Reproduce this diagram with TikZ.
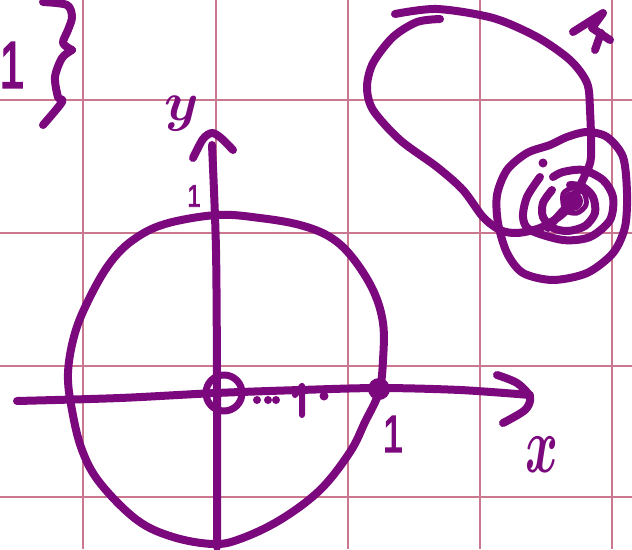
\documentclass[tikz,border=0pt]{standalone}
\usepackage{fontspec}
\usepackage{xcolor}
\usepackage{tikz}
\newfontfamily\elyazi{Liberation Sans}[FakeBold=3]
\definecolor{kalemMor}{HTML}{7B087C}
\definecolor{izgaraPembe}{HTML}{C9788F}

\begin{document}
\begin{tikzpicture}[x=1pt,y=-1pt,
  kalem/.style={kalemMor,line width=8pt,line cap=round,line join=round},
  etiket/.style={kalemMor,inner sep=0pt}]
\useasboundingbox (0,0) rectangle (632,549);
\clip (0,0) rectangle (632,549);
\fill[white] (0,0) rectangle (632,549);
\foreach \gx in {83,216,348,480,612} \draw[izgaraPembe,line width=2pt] (\gx,0)--(\gx,549);
\foreach \gy in {100,233,366,497} \draw[izgaraPembe,line width=2pt] (0,\gy)--(632,\gy);
\begin{scope}
\draw[kalem] plot[smooth cycle,tension=0.6] coordinates {(217,215) (260,218) (300,225) (330,237) (352,257) (373,290) (383,323) (383,360) (379,392) (365,422) (350,452) (320,490) (280,520) (240,539) (213,544) (173,537) (137,520) (100,483) (82,450) (72,410) (68,373) (75,333) (90,297) (110,263) (133,240) (165,224)};
\draw[kalem] plot[smooth] coordinates {(17,401) (120,398) (216,393) (300,390) (380,388) (460,390) (530,395)};
\draw[kalem] plot[smooth] coordinates {(497,375) (517,383) (530,397) (525,410) (503,423)};
\draw[kalem] plot[smooth] coordinates {(217,547) (217,393) (216,250) (212,145)};
\draw[kalem] plot[smooth] coordinates {(193,158) (203,139) (212,133) (221,138) (233,150)};
\draw[kalem,line width=7pt] (224,393) circle (18pt);
\foreach \px in {257,268,276} \fill[kalemMor] (\px,400) circle (4pt);
\draw[kalem,line width=6pt] (295,395)--(302,386)--(302,415);
\fill[kalemMor] (324,396) circle (4.5pt);
\fill[kalemMor] (379,389) circle (11pt);
\node[etiket,font=\elyazi\fontsize{36}{36}\selectfont,yscale=1.45] (birNokta) at (393,434) {1};
\node[etiket,font=\elyazi\fontsize{24}{24}\selectfont,yscale=1.3] (birY) at (194,196) {1};
\node[etiket,font=\boldmath,xscale=5,yscale=8] (eksenX) at (542,455) {$x$};
\node[etiket,font=\boldmath,scale=5.5] (eksenY) at (182,114) {$y$};
\end{scope}
\begin{scope}
\node[etiket,font=\elyazi\fontsize{44}{44}\selectfont,yscale=1.5] (birSol) at (12,65) {1};
\draw[kalem] plot[smooth,tension=0.5] coordinates {(43,2) (67,5) (72,17) (68,30) (63,43) (72,50)};
\draw[kalem] plot[smooth,tension=0.5] coordinates {(72,50) (62,58) (55,77) (58,97) (62,102) (43,125)};
\end{scope}
\begin{scope}
\draw[kalem] plot[smooth] coordinates {(395,14) (437,9) (493,18) (537,37) (570,60) (587,83) (590,110) (591,157) (585,175) (573,199) (560,214) (548,228)};
\draw[kalem] plot[smooth] coordinates {(440,19) (417,22) (393,37) (373,63) (367,87) (373,110) (400,140) (437,167) (463,190) (483,217) (500,230) (517,233) (540,228) (560,216) (573,203)};
\draw[kalem] plot[smooth cycle] coordinates {(550,145) (527,153) (507,170) (497,195) (498,223) (507,253) (523,273) (553,280) (587,273) (613,253) (625,227) (627,193) (623,157) (607,137) (587,132) (567,137)};
\draw[kalem] plot[smooth] coordinates {(540,177) (527,197) (523,217) (530,230) (563,240) (590,237) (610,220) (613,197) (603,180) (583,170) (563,172) (553,177)};
\fill[kalemMor] (543,163) circle (4.5pt);
\draw[kalem] plot[smooth] coordinates {(552,190) (543,203) (543,217) (553,228) (568,231) (585,226) (595,213) (593,197) (583,187) (570,185)};
\fill[kalemMor] (573,201) circle (10pt);
\draw[kalem,line width=5pt] plot[smooth cycle] coordinates {(563,194) (573,188) (584,193) (586,205) (577,213) (565,210)};
\draw[kalem] (573,32)--(603,13)--(592,28)--(610,40);
\draw[kalem] (601,33)--(595,50);
\end{scope}
\end{tikzpicture}
\end{document}
